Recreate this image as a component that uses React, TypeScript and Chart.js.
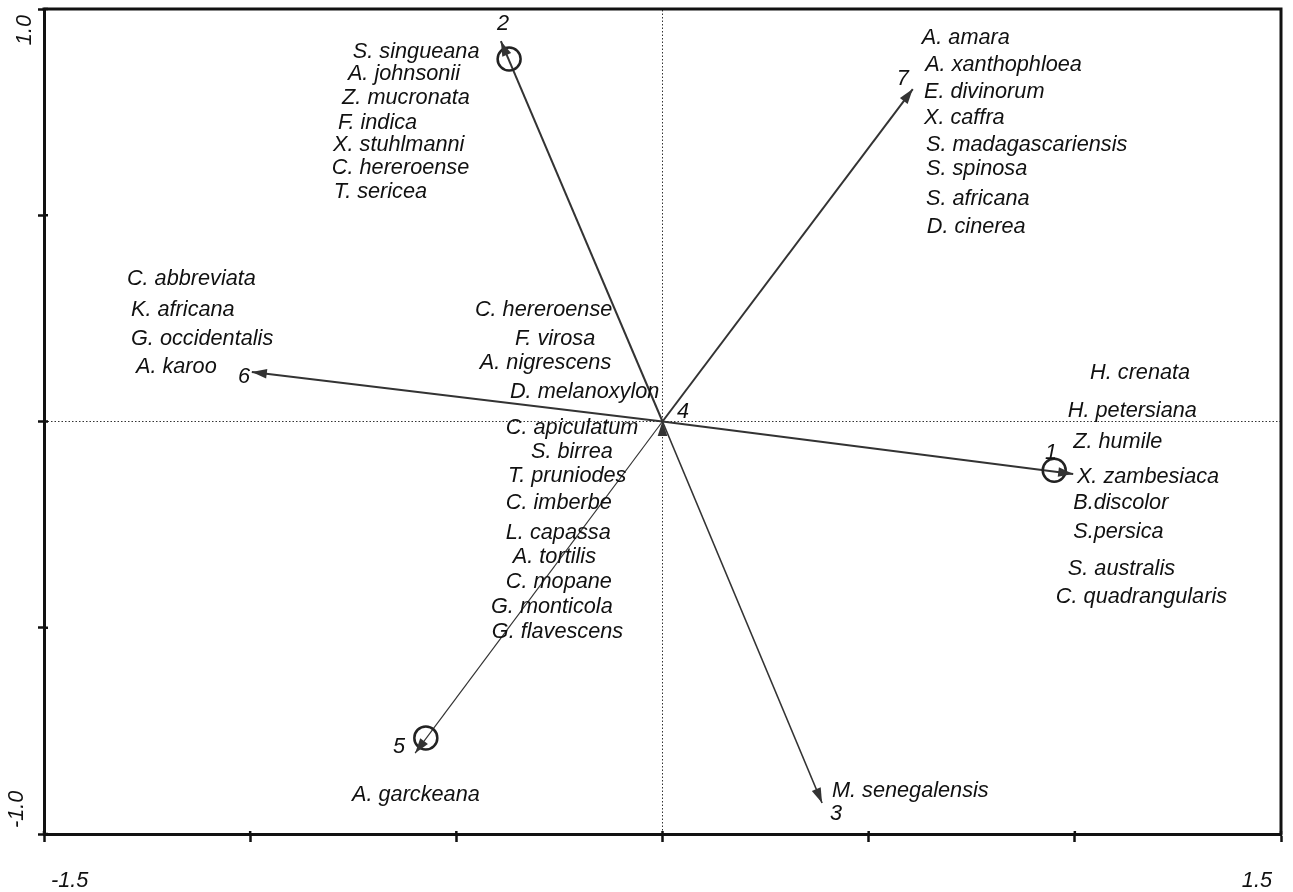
import React, { useEffect, useRef } from "react";
import { Chart, registerables } from "chart.js";

Chart.register(...registerables);

// ---- axis ranges and labelled ticks ----
const X_MIN = -1.5;
const X_MAX = 1.5;
const Y_MIN = -1.0;
const Y_MAX = 1.0;
const TICK_STEP = 0.5;
const X_TICK_VALUES = [-1.5, 1.5];
const X_TICK_LABELS = ["-1.5", "1.5"];
const Y_TICK_VALUES = [1.0, -1.0];
const Y_TICK_LABELS = ["1.0", "-1.0"];

// ---- environmental vectors (arrow tips) ----
const VECTOR_LABELS = ["1", "2", "3", "4", "5", "6", "7"];
const VECTOR_X = [0.996, -0.392, 0.387, 0.0, -0.6, -0.996, 0.607];
const VECTOR_Y = [-0.127, 0.922, -0.925, 0.001, -0.804, 0.12, 0.806];
const VECTOR_LABEL_X = [0.942, -0.387, 0.421, 0.05, -0.639, -1.015, 0.583];
const VECTOR_LABEL_Y = [-0.072, 0.968, -0.947, 0.028, -0.784, 0.113, 0.835];

// ---- circled sites ----
const CIRCLE_X = [0.95, -0.372, -0.574];
const CIRCLE_Y = [-0.118, 0.879, -0.767];

// ---- species labels (left anchor) ----
const SPECIES = [
  "S. singueana", "A. johnsonii", "Z. mucronata", "F. indica", "X. stuhlmanni", "C. hereroense", "T. sericea",
  "A. amara", "A. xanthophloea", "E. divinorum", "X. caffra", "S. madagascariensis", "S. spinosa", "S. africana", "D. cinerea",
  "C. abbreviata", "K. africana", "G. occidentalis", "A. karoo",
  "C. hereroense", "F. virosa", "A. nigrescens", "D. melanoxylon", "C. apiculatum", "S. birrea", "T. pruniodes",
  "C. imberbe", "L. capassa", "A. tortilis", "C. mopane", "G. monticola", "G. flavescens",
  "H. crenata", "H. petersiana", "Z. humile", "X. zambesiaca", "B.discolor", "S.persica", "S. australis", "C. quadrangularis",
  "A. garckeana", "M. senegalensis",
];
const SPECIES_X = [
  -0.751, -0.763, -0.777, -0.787, -0.799, -0.802, -0.797,
  0.629, 0.637, 0.634, 0.634, 0.639, 0.639, 0.639, 0.641,
  -1.299, -1.289, -1.289, -1.277,
  -0.455, -0.358, -0.443, -0.37, -0.38, -0.319, -0.375,
  -0.38, -0.38, -0.363, -0.38, -0.416, -0.414,
  1.037, 0.983, 0.996, 1.005, 0.996, 0.996, 0.983, 0.954,
  -0.753, 0.411,
];
const SPECIES_Y = [
  0.901, 0.847, 0.789, 0.728, 0.675, 0.619, 0.561,
  0.934, 0.869, 0.804, 0.741, 0.675, 0.617, 0.544, 0.476,
  0.35, 0.275, 0.205, 0.137,
  0.275, 0.205, 0.147, 0.076, -0.011, -0.069, -0.127,
  -0.193, -0.265, -0.324, -0.384, -0.445, -0.505,
  0.122, 0.03, -0.045, -0.13, -0.193, -0.263, -0.353, -0.421,
  -0.901, -0.891,
];

// ---- styles ----
const FONT = "italic 21.7px 'Liberation Sans', Arial, sans-serif";
const INK = "#111111";
const ARROW_COLOR = "#333333";
const ARROW_WIDTHS = [2, 2, 1.6, 2, 1.2, 2, 2];
const TEXT_NUDGE_Y = 2;

const DS_CIRCLES = 0;
const DS_SPECIES = 1;
const DS_VLABELS = 2;
const DS_ARROWS = 3;

const ordinationPlugin = {
  id: "ordination",
  afterDatasetsDraw(chart: any) {
    const ctx = chart.ctx as CanvasRenderingContext2D;
    ctx.save();
    // arrowheads
    ctx.fillStyle = "#333333";
    for (let i = 0; i < VECTOR_X.length; i++) {
      const meta = chart.getDatasetMeta(DS_ARROWS + i);
      const a = meta.data[0];
      const b = meta.data[1];
      let dx = b.x - a.x;
      let dy = b.y - a.y;
      const len = Math.hypot(dx, dy) || 1;
      dx /= len;
      dy /= len;
      const L = 15;
      const W = 4.8;
      ctx.beginPath();
      ctx.moveTo(b.x, b.y);
      ctx.lineTo(b.x - dx * L - dy * W, b.y - dy * L + dx * W);
      ctx.lineTo(b.x - dx * L + dy * W, b.y - dy * L - dx * W);
      ctx.closePath();
      ctx.fill();
    }
    // species labels
    ctx.font = FONT;
    ctx.fillStyle = INK;
    ctx.textBaseline = "middle";
    ctx.textAlign = "left";
    const sm = chart.getDatasetMeta(DS_SPECIES);
    sm.data.forEach((pt: any, i: number) => ctx.fillText(SPECIES[i], pt.x, pt.y + TEXT_NUDGE_Y));
    // vector numbers
    ctx.textAlign = "center";
    const lm = chart.getDatasetMeta(DS_VLABELS);
    lm.data.forEach((pt: any, i: number) => ctx.fillText(VECTOR_LABELS[i], pt.x, pt.y + TEXT_NUDGE_Y));
    ctx.restore();
  },
  afterDraw(chart: any) {
    const ctx = chart.ctx as CanvasRenderingContext2D;
    const { top, right, bottom, left } = chart.chartArea;
    const xs = chart.scales.x;
    const ys = chart.scales.y;
    ctx.save();
    // top and right frame lines
    ctx.strokeStyle = INK;
    ctx.lineWidth = 3;
    ctx.beginPath();
    ctx.moveTo(left - 1.5, top);
    ctx.lineTo(right, top);
    ctx.lineTo(right, bottom + 1.5);
    ctx.stroke();
    // tick marks crossing slightly inside the frame
    ctx.lineWidth = 2.5;
    xs.ticks.forEach((t: any) => {
      const px = xs.getPixelForValue(t.value);
      ctx.beginPath();
      ctx.moveTo(px, bottom - 3);
      ctx.lineTo(px, bottom);
      ctx.stroke();
    });
    ys.ticks.forEach((t: any) => {
      const py = ys.getPixelForValue(t.value);
      ctx.beginPath();
      ctx.moveTo(left, py);
      ctx.lineTo(left + 4, py);
      ctx.stroke();
    });
    // x tick labels (inner aligned)
    ctx.font = FONT;
    ctx.fillStyle = INK;
    ctx.textBaseline = "middle";
    X_TICK_VALUES.forEach((v, i) => {
      const px = xs.getPixelForValue(v);
      const isFirst = i === 0;
      ctx.textAlign = isFirst ? "left" : "right";
      ctx.fillText(X_TICK_LABELS[i], isFirst ? px + 7 : px - 9, bottom + 47);
    });
    // y tick labels (rotated, inner aligned)
    const yOffsets = [19, 27];
    Y_TICK_VALUES.forEach((v, i) => {
      const py = ys.getPixelForValue(v);
      const isTop = i === 0;
      ctx.save();
      ctx.translate(left - yOffsets[i], isTop ? py + 6 : py - 6);
      ctx.rotate(-Math.PI / 2);
      ctx.textAlign = isTop ? "right" : "left";
      ctx.fillText(Y_TICK_LABELS[i], 0, 0);
      ctx.restore();
    });
    ctx.restore();
  },
};

export default function App() {
  const canvasRef = useRef<HTMLCanvasElement | null>(null);

  useEffect(() => {
    if (!canvasRef.current) return;
    const datasets: any[] = [];
    datasets.push({
      data: CIRCLE_X.map((x, i) => ({ x, y: CIRCLE_Y[i] })),
      pointRadius: 11.5,
      pointBorderWidth: 2.5,
      pointBorderColor: "#222222",
      pointBackgroundColor: "rgba(0,0,0,0)",
      showLine: false,
    });
    datasets.push({
      data: SPECIES_X.map((x, i) => ({ x, y: SPECIES_Y[i] })),
      pointRadius: 0,
      showLine: false,
    });
    datasets.push({
      data: VECTOR_LABEL_X.map((x, i) => ({ x, y: VECTOR_LABEL_Y[i] })),
      pointRadius: 0,
      showLine: false,
    });
    VECTOR_X.forEach((x, i) => {
      datasets.push({
        data: [
          { x: 0, y: 0 },
          { x, y: VECTOR_Y[i] },
        ],
        showLine: true,
        borderColor: ARROW_COLOR,
        borderWidth: ARROW_WIDTHS[i],
        pointRadius: 0,
      });
    });
    // dotted zero reference lines
    datasets.push({
      data: [
        { x: 0, y: Y_MIN },
        { x: 0, y: Y_MAX },
      ],
      showLine: true,
      borderColor: "#333333",
      borderWidth: 1,
      borderDash: [1.5, 2],
      pointRadius: 0,
    });
    datasets.push({
      data: [
        { x: X_MIN, y: 0 },
        { x: X_MAX, y: 0 },
      ],
      showLine: true,
      borderColor: "#333333",
      borderWidth: 1,
      borderDash: [1.5, 2],
      pointRadius: 0,
    });

    const chart = new Chart(canvasRef.current, {
      type: "scatter",
      data: { datasets },
      options: {
        animation: false,
        responsive: false,
        events: [],
        layout: { padding: { top: 14, right: 14, left: 0, bottom: 0 } },
        plugins: {
          legend: { display: false },
          tooltip: { enabled: false },
        },
        scales: {
          x: {
            type: "linear",
            position: "bottom",
            min: X_MIN,
            max: X_MAX,
            ticks: { display: false, stepSize: TICK_STEP },
            grid: {
              display: true,
              drawOnChartArea: false,
              drawTicks: true,
              tickLength: 8,
              tickWidth: 2.5,
              tickColor: INK,
            },
            border: { display: true, color: INK, width: 3 },
            afterFit: (scale: any) => {
              scale.height = 58;
            },
          },
          y: {
            type: "linear",
            position: "left",
            min: Y_MIN,
            max: Y_MAX,
            ticks: { display: false, stepSize: TICK_STEP },
            grid: {
              display: true,
              drawOnChartArea: false,
              drawTicks: true,
              tickLength: 6,
              tickWidth: 2.5,
              tickColor: INK,
            },
            border: { display: true, color: INK, width: 3 },
            afterFit: (scale: any) => {
              scale.width = 44;
            },
          },
        },
      } as any,
      plugins: [ordinationPlugin],
    });
    return () => chart.destroy();
  }, []);

  return (
    <div
      style={{
        position: "absolute",
        left: 0,
        top: 0,
        width: 1293,
        height: 892,
        overflow: "hidden",
        background: "#fff",
      }}
    >
      <canvas
        ref={canvasRef}
        width={1295}
        height={897}
        style={{ display: "block", position: "absolute", left: 0, top: -5 }}
      />
    </div>
  );
}
